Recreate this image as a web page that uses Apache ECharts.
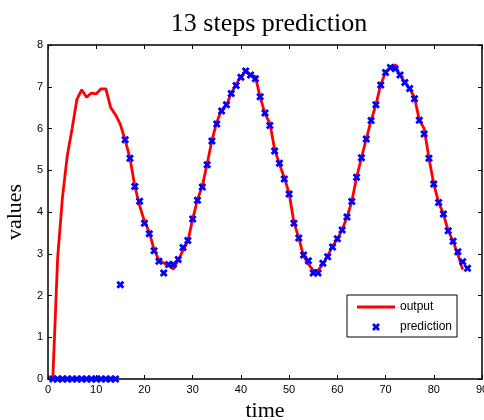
<!DOCTYPE html>
<html>
<head>
<meta charset="utf-8">
<script src="https://cdn.jsdelivr.net/npm/echarts@6/dist/echarts.min.js"></script>
<style>html,body{margin:0;padding:0;background:#fff}#c{width:484px;height:420px}</style>
</head>
<body>
<div id="c"></div>
<script>
const titleText = "13 steps prediction";
const xName = "time";
const yName = "values";
const xTicks = [0, 10, 20, 30, 40, 50, 60, 70, 80, 90];
const yTicks = [0, 1, 2, 3, 4, 5, 6, 7, 8];

const outputTime = [1,2,3,4,5,6,7,8,9,10,11,12,13,14,15,16,17,18,19,20,21,22,23,24,25,26,27,28,29,30,31,32,33,34,35,36,37,38,39,40,41,42,43,44,45,46,47,48,49,50,51,52,53,54,55,56,57,58,59,60,61,62,63,64,65,66,67,68,69,70,71,72,73,74,75,76,77,78,79,80,81,82,83,84,85,86];
const outputValues = [0,2.9,4.35,5.35,6.0,6.7,6.93,6.75,6.85,6.83,6.95,6.95,6.5,6.33,6.1,5.72,5.29,4.62,4.15,3.78,3.52,3.1,2.85,2.78,2.72,2.63,2.85,3.08,3.3,3.83,4.3,4.62,5.15,5.72,6.15,6.45,6.55,6.85,7.05,7.25,7.36,7.27,7.25,6.75,6.35,6.13,5.5,5.15,4.82,4.45,3.75,3.38,2.95,2.75,2.6,2.6,2.75,2.95,3.18,3.35,3.57,3.88,4.25,4.83,5.3,5.75,6.19,6.57,7.05,7.35,7.45,7.53,7.27,7.11,6.95,6.75,6.2,6.0,5.29,4.67,4.23,3.95,3.55,3.3,2.98,2.62];

const predTime = [1,2,3,4,5,6,7,8,9,10,11,12,13,14,15,16,17,18,19,20,21,22,23,24,25,26,27,28,29,30,31,32,33,34,35,36,37,38,39,40,41,42,43,44,45,46,47,48,49,50,51,52,53,54,55,56,57,58,59,60,61,62,63,64,65,66,67,68,69,70,71,72,73,74,75,76,77,78,79,80,81,82,83,84,85,86,87];
const predValues = [0,0,0,0,0,0,0,0,0,0,0,0,0,0,2.26,5.73,5.29,4.61,4.26,3.73,3.48,3.07,2.82,2.54,2.74,2.74,2.86,3.15,3.32,3.83,4.28,4.6,5.13,5.7,6.11,6.42,6.57,6.84,7.03,7.23,7.38,7.28,7.19,6.76,6.37,6.07,5.46,5.17,4.79,4.43,3.73,3.38,2.97,2.83,2.54,2.54,2.77,2.93,3.16,3.36,3.57,3.88,4.25,4.83,5.3,5.75,6.19,6.57,7.04,7.34,7.46,7.43,7.28,7.1,6.96,6.71,6.2,5.87,5.29,4.67,4.23,3.95,3.55,3.3,3.05,2.81,2.65];

const chart = echarts.init(document.getElementById('c'), null, {renderer: 'canvas'});
const xSymbol = 'path://M0,2.5 L2.5,0 L5,2.5 L7.5,0 L10,2.5 L7.5,5 L10,7.5 L7.5,10 L5,7.5 L2.5,10 L0,7.5 L2.5,5 Z';
const lineIcon = 'path://M0,0 L38,0 L38,3 L0,3 Z';
const labelFont = {color: '#000', fontFamily: 'Liberation Sans, Arial, sans-serif', fontSize: 11};
function mkX(pos, showLabel) {
  return {
    type: 'value', position: pos, min: xTicks[0], max: xTicks[xTicks.length-1], interval: 10,
    axisLine: {show: true, onZero: false, lineStyle: {color: '#000', width: 1.5}},
    axisTick: {show: true, inside: true, length: 4, lineStyle: {color: '#000', width: 1}},
    axisLabel: Object.assign({show: showLabel, margin: 5}, labelFont),
    splitLine: {show: false},
    name: showLabel ? xName : '', nameLocation: 'middle', nameGap: 21,
    nameTextStyle: {fontFamily: 'Liberation Serif, Times New Roman, serif', fontSize: 22, color: '#000'}
  };
}
function mkY(pos, showLabel) {
  return {
    type: 'value', position: pos, min: yTicks[0], max: yTicks[yTicks.length-1], interval: 1,
    axisLine: {show: true, onZero: false, lineStyle: {color: '#000', width: 1.5}},
    axisTick: {show: true, inside: true, length: 4, lineStyle: {color: '#000', width: 1}},
    axisLabel: Object.assign({show: showLabel, margin: 5}, labelFont),
    splitLine: {show: false},
    name: showLabel ? yName : '', nameLocation: 'middle', nameGap: 22,
    nameTextStyle: {fontFamily: 'Liberation Serif, Times New Roman, serif', fontSize: 22, color: '#000'}
  };
}
chart.setOption({
  animation: false,
  backgroundColor: '#fff',
  title: {
    text: titleText, left: 264, top: 6, textAlign: 'center',
    textStyle: {fontFamily: 'Liberation Serif, Times New Roman, serif', fontSize: 26, fontWeight: 'normal', color: '#000'}
  },
  grid: {left: 48, right: 2, top: 45, bottom: 41, containLabel: false, outerBoundsMode: 'none'},
  xAxis: [mkX('bottom', true), mkX('top', false)],
  yAxis: [mkY('left', true), mkY('right', false)],
  legend: {
    orient: 'vertical', left: 347, top: 295,
    padding: [6, 5, 4, 10], itemWidth: 38, itemHeight: 8, itemGap: 8,
    backgroundColor: '#fff', borderColor: '#000', borderWidth: 1,
    textStyle: {fontFamily: 'Liberation Sans, Arial, sans-serif', fontSize: 12, color: '#000'},
    data: [{name: 'output', icon: lineIcon, itemStyle: {color: '#ff0000'}}, {name: 'prediction'}],
    selectedMode: false
  },
  series: [
    {
      name: 'output', type: 'line', xAxisIndex: 0, yAxisIndex: 0,
      data: outputTime.map((t, i) => [t, outputValues[i]]),
      showSymbol: false, symbol: 'none',
      lineStyle: {color: '#ff0000', width: 2.8}, itemStyle: {color: '#ff0000'}, z: 2
    },
    {
      name: 'prediction', type: 'scatter', xAxisIndex: 0, yAxisIndex: 0,
      data: predTime.map((t, i) => [t, predValues[i]]),
      symbol: xSymbol, symbolSize: 8,
      itemStyle: {color: '#0000ff', opacity: 1}, z: 3
    }
  ]
});
</script>
</body>
</html>
